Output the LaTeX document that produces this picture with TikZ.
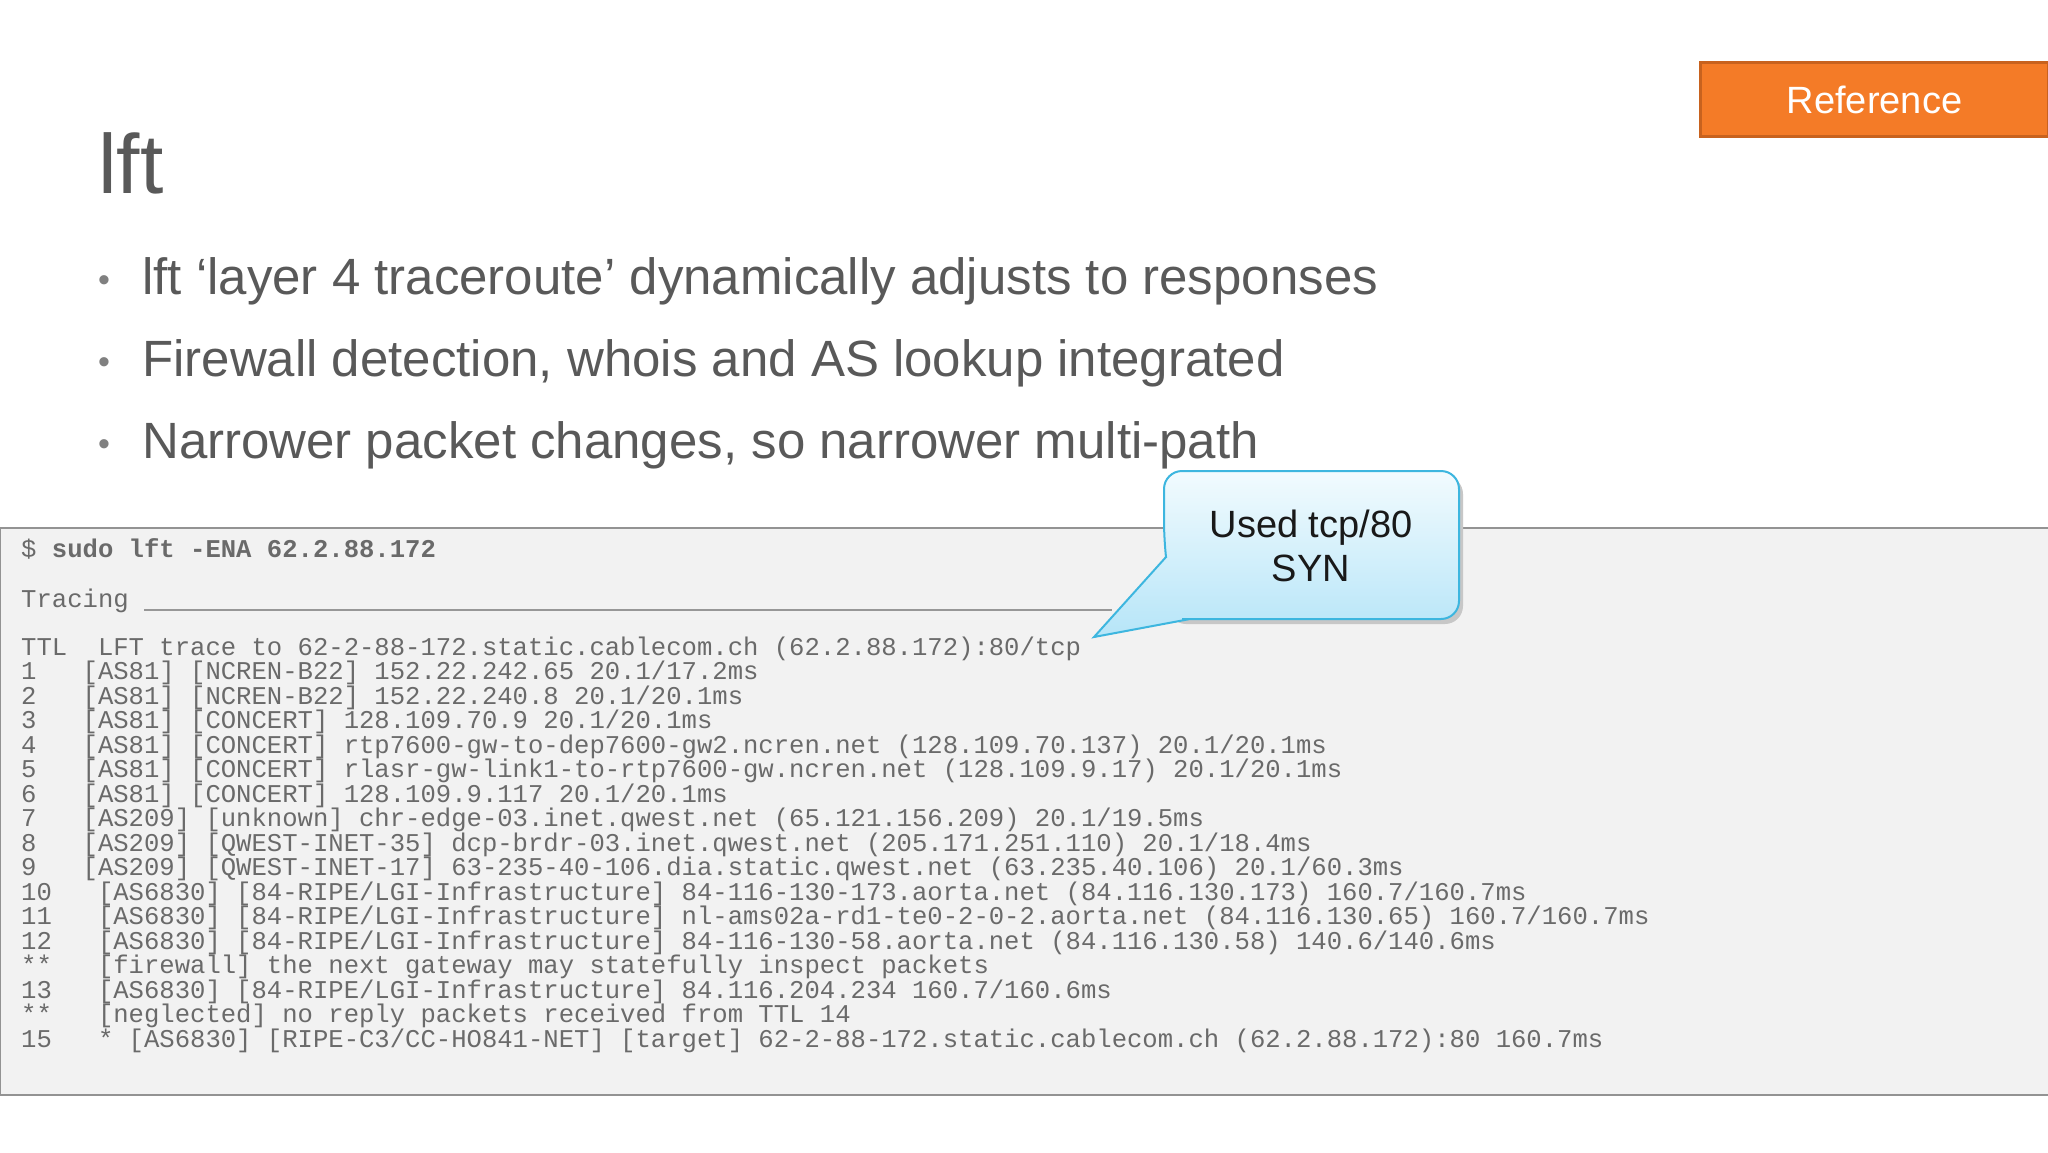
\documentclass[tikz,border=0pt]{standalone}
\usepackage{fontspec}
\setmainfont{Liberation Sans}
\setmonofont{Liberation Mono}
\definecolor{txt}{HTML}{595959}
\definecolor{mono}{HTML}{6A6A6A}
\definecolor{orng}{HTML}{F47B27}
\definecolor{orngd}{HTML}{C8621E}
\definecolor{cyb}{HTML}{3DB6DF}
\definecolor{cytop}{HTML}{F2FBFE}
\definecolor{cybot}{HTML}{B6E5F8}
\tikzset{
 ml/.style={anchor=base west,inner sep=0pt,font=\fontsize{25.6}{25.6}\ttfamily,text=mono},
 bul/.style={anchor=base west,inner sep=0pt,font=\fontsize{51}{51}\selectfont,text=txt},
}
\begin{document}
\begin{tikzpicture}[x=1pt,y=-1pt]
\useasboundingbox[fill=white] (0,0) rectangle (2048,1152);
% reference button
\node[draw=orngd,line width=3pt,fill=orng,minimum width=348,minimum height=74,anchor=north west,text=white,font=\fontsize{38}{38}\selectfont] (ref) at (1699,61) {Reference};
% title
\node[anchor=base west,inner sep=0pt,text=txt,font=\fontsize{84}{84}\selectfont] (title) at (98,193) {lft};
% bullets
\foreach \y/\t [count=\i] in {294/{lft ‘layer 4 traceroute’ dynamically adjusts to responses},376/{Firewall detection, whois and AS lookup integrated},458/{Narrower packet changes, so narrower multi-path}}{
  \node[bul,font=\fontsize{34}{34}\selectfont,text=gray] (dot\i) at (98,\y-3) {•};
  \node[bul] (b\i) at (142,\y) {\t};
}
% terminal
\node[draw=gray!85,line width=1.5pt,fill=black!5,minimum width=2050,minimum height=567,anchor=north west,inner sep=0pt] (term) at (-1,527) {};
\node[ml] (l0) at (21,557) {\$ \textbf{sudo lft -ENA 62.2.88.172}};
\node[ml] (l1) at (21,607) {Tracing};
\coordinate (ua) at (144,610);
\coordinate (ub) at (1112,610);
\draw[mono!70,line width=1.5pt] (ua) -- (ub);
\foreach \t [count=\i] in {
TTL~~LFT trace to 62-2-88-172.static.cablecom.ch (62.2.88.172):80/tcp,
1~~~[AS81] [NCREN-B22] 152.22.242.65 20.1/17.2ms,
2~~~[AS81] [NCREN-B22] 152.22.240.8 20.1/20.1ms,
3~~~[AS81] [CONCERT] 128.109.70.9 20.1/20.1ms,
4~~~[AS81] [CONCERT] rtp7600-gw-to-dep7600-gw2.ncren.net (128.109.70.137) 20.1/20.1ms,
5~~~[AS81] [CONCERT] rlasr-gw-link1-to-rtp7600-gw.ncren.net (128.109.9.17) 20.1/20.1ms,
6~~~[AS81] [CONCERT] 128.109.9.117 20.1/20.1ms,
7~~~[AS209] [unknown] chr-edge-03.inet.qwest.net (65.121.156.209) 20.1/19.5ms,
8~~~[AS209] [QWEST-INET-35] dcp-brdr-03.inet.qwest.net (205.171.251.110) 20.1/18.4ms,
9~~~[AS209] [QWEST-INET-17] 63-235-40-106.dia.static.qwest.net (63.235.40.106) 20.1/60.3ms,
10~~~[AS6830] [84-RIPE/LGI-Infrastructure] 84-116-130-173.aorta.net (84.116.130.173) 160.7/160.7ms,
11~~~[AS6830] [84-RIPE/LGI-Infrastructure] nl-ams02a-rd1-te0-2-0-2.aorta.net (84.116.130.65) 160.7/160.7ms,
12~~~[AS6830] [84-RIPE/LGI-Infrastructure] 84-116-130-58.aorta.net (84.116.130.58) 140.6/140.6ms,
**~~~[firewall] the next gateway may statefully inspect packets,
13~~~[AS6830] [84-RIPE/LGI-Infrastructure] 84.116.204.234 160.7/160.6ms,
**~~~[neglected] no reply packets received from TTL 14,
15~~~* [AS6830] [RIPE-C3/CC-HO841-NET] [target] 62-2-88-172.static.cablecom.ch (62.2.88.172):80 160.7ms}{
  \node[ml] (t\i) at (21,{655+(\i-1)*24.5}) {\t};
}
% callout
\coordinate (tip) at (1094,637);
\fill[black!22,rounded corners=18] (1168,476) -- (1463,476) -- (1463,624) -- (1168,624) -- cycle;
\path[draw=cyb,line width=2pt,top color=cytop,bottom color=cybot,rounded corners=18]
 (1164,471) -- (1459,471) -- (1459,619) -- (1200,619) [sharp corners]-- (1190,619) -- (tip) -- (1166,557) [rounded corners=18]-- (1164,540) -- cycle;
\node[align=center,font=\fontsize{38}{44}\selectfont,text=black!90] (call) at (1311,546) {Used tcp/80\\SYN};
\end{tikzpicture}
\end{document}
